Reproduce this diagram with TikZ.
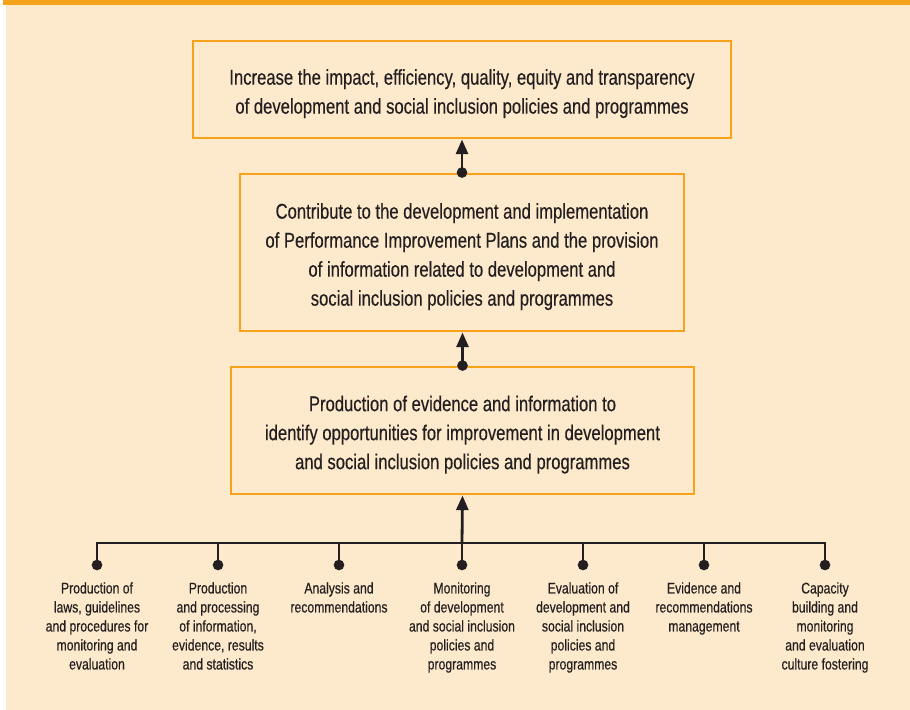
\documentclass[tikz,border=0pt]{standalone}
\usepackage{fontspec}
\setmainfont{Liberation Sans}[FakeStretch=0.78,FakeBold=0.35]
\newfontfamily\leaffont{Liberation Sans}[FakeStretch=0.79,FakeBold=0.35]
\usetikzlibrary{arrows.meta}
\definecolor{bgcream}{HTML}{FDE9CB}
\definecolor{orng}{HTML}{F7A21B}
\definecolor{ink}{HTML}{231F20}
\newcommand{\lowerstrut}{\rule{0pt}{17.8pt}}
\begin{document}
\begin{tikzpicture}[x=0.75pt,y=-0.75pt,
  box/.style={draw=orng,line width=2.2pt,fill=bgcream,align=center,text=ink,font=\fontsize{16}{21.75}\selectfont,inner sep=0pt},
  leaf/.style={align=center,text=ink,font=\leaffont\fontsize{11.6}{14.25}\selectfont,anchor=north,inner sep=0pt},
  conn/.style={draw=ink,line width=2.1pt},
  arr/.style={conn,-{Triangle[length=11pt,width=9pt]}},
  dot/.style={circle,fill=ink,inner sep=0pt,minimum size=8pt}]
\useasboundingbox (0,0) rectangle (910,710);
\fill[white] (0,0) rectangle (910,710);
\fill[bgcream] (6,5) rectangle (910,710);
\fill[orng] (3,0) rectangle (910,5);
% boxes
\node[box,minimum width=538*0.75pt,minimum height=97*0.75pt] (b1) at (462,89.5)
 {\lowerstrut Increase the impact, efficiency, quality, equity and transparency\\of development and social inclusion policies and programmes};
\node[box,minimum width=444*0.75pt,minimum height=157*0.75pt] (b2) at (462,252.5)
 {\lowerstrut Contribute to the development and implementation\\of Performance Improvement Plans and the provision\\of information related to development and\\social inclusion policies and programmes};
\node[box,minimum width=463*0.75pt,minimum height=127*0.75pt] (b3) at (462.5,430.5)
 {\lowerstrut Production of evidence and information to\\identify opportunities for improvement in development\\and social inclusion policies and programmes};
% arrows between boxes
\node[dot] (d2) at (b2.north) {};
\draw[arr] (d2.center) -- (b1.south);
\node[dot] (d3) at (b3.north) {};
\draw[arr] (d3.center) -- (b3.north |- b2.south);
% bottom bar
\coordinate (hb1) at (97,543);
\coordinate (hb7) at (825,543);
\coordinate (hub) at (462,543);
\draw[conn] ([xshift=-0.8pt]hb1) -- ([xshift=0.8pt]hb7);
\draw[arr] (hub) -- (b3.south);
\foreach \i/\x in {1/97,2/218,3/339,4/462,5/583,6/704,7/825}{
  \node[dot] (p\i) at (\x,565) {};
  \draw[conn] (\x,542) -- (p\i.center);
}
\node[leaf] (l1) at (97,582) {Production of\\laws, guidelines\\and procedures for\\monitoring and\\evaluation};
\node[leaf] (l2) at (218,582) {Production\\and processing\\of information,\\evidence, results\\and statistics};
\node[leaf] (l3) at (339,582) {Analysis and\\recommendations};
\node[leaf] (l4) at (462,582) {Monitoring\\of development\\and social inclusion\\policies and\\programmes};
\node[leaf] (l5) at (583,582) {Evaluation of\\development and\\social inclusion\\policies and\\programmes};
\node[leaf] (l6) at (704,582) {Evidence and\\recommendations\\management};
\node[leaf] (l7) at (825,582) {Capacity\\building and\\monitoring\\and evaluation\\culture fostering};
\end{tikzpicture}
\end{document}
